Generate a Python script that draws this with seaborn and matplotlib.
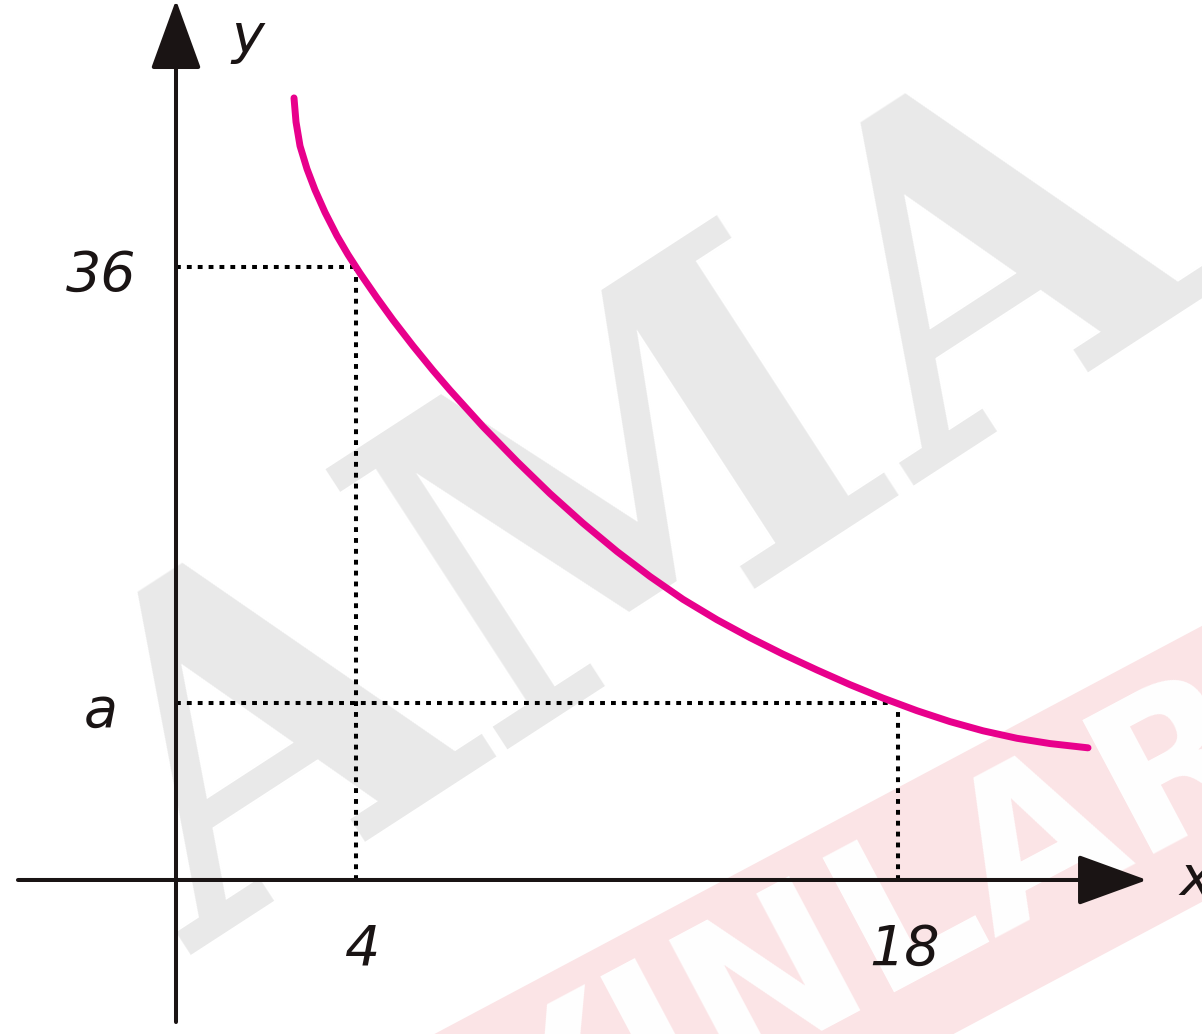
import numpy as np
import pandas as pd
import seaborn as sns
import matplotlib
matplotlib.use('Agg')
import matplotlib.pyplot as plt

# curve (drawing units: x tick "18" at 18, y tick "36" at 36)
curve_x = [2.942, 2.992, 3.092, 3.266, 3.465, 3.715, 4.014, 4.288, 4.587, 5.011,
           5.410, 5.909, 6.407, 6.831, 7.654, 8.502, 9.324, 10.147, 10.995,
           11.818, 12.640, 13.488, 14.311, 15.133, 15.981, 16.804, 17.627,
           18.474, 19.297, 20.120, 20.967, 21.790, 22.738]
curve_y = [45.92, 44.51, 43.10, 41.75, 40.52, 39.20, 37.82, 36.72, 35.63, 34.18,
           32.88, 31.36, 29.92, 28.76, 26.62, 24.57, 22.69, 20.95, 19.29, 17.82,
           16.48, 15.28, 14.23, 13.26, 12.33, 11.47, 10.68, 9.94, 9.30, 8.76,
           8.32, 8.01, 7.76]

# marked points on the curve and their labels
mark_x = [4.49, 18.0]
mark_y = [36.0, 10.39]
x_labels = ['4', '18']
y_labels = ['36', 'a']

x_range = [-4.388, 25.58]
y_range = [-9.043, 51.67]

curve_color = '#e8008c'
ink = '#1a1414'

sns.set_style('white')
plt.rcParams['font.family'] = ['DejaVu Sans']

fig = plt.figure(figsize=(12.02, 10.34), dpi=100)
ax = fig.add_axes([0, 0, 1, 1])
ax.set_xlim(x_range)
ax.set_ylim(y_range)
ax.axis('off')

# watermark in the background
ax.text(0.53, 0.50, 'AMA', transform=ax.transAxes, fontsize=330,
        family='DejaVu Serif', weight='bold', color='#e9e9e9', rotation=33,
        ha='center', va='center', zorder=0)
ax.text(0.655, 0.048, 'YAYINLARI', transform=ax.transAxes, fontsize=150,
        weight='bold', color='white', rotation=28, ha='center', va='center',
        zorder=0.5, bbox=dict(boxstyle='square,pad=0.1', fc='#fbe4e6', ec='none'))

# axes with arrow heads
ax.annotate('', xy=(x_range[1] - 1.37, 0), xytext=(-3.94, 0),
            arrowprops=dict(arrowstyle='-|>,head_length=1.1,head_width=0.4',
                            mutation_scale=40, lw=2.9, color=ink, shrinkA=0, shrinkB=0),
            zorder=5)
ax.annotate('', xy=(0, y_range[1]), xytext=(0, -8.34),
            arrowprops=dict(arrowstyle='-|>,head_length=1.1,head_width=0.4',
                            mutation_scale=40, lw=2.9, color=ink, shrinkA=0, shrinkB=0),
            zorder=5)

# dotted guides
for mx, my in zip(mark_x, mark_y):
    ax.plot([0, mx], [my, my], color='black', lw=2.9, ls=(0, (1.2, 1.5)), zorder=3)
    ax.plot([mx, mx], [0, my], color='black', lw=2.9, ls=(0, (1.2, 1.5)), zorder=3)

# the curve
df = pd.DataFrame({'x': curve_x, 'y': curve_y})
sns.lineplot(data=df, x='x', y='y', ax=ax, color=curve_color, lw=5, sort=False,
             zorder=4, solid_joinstyle='round')
ax.axis('off')

lab = dict(fontsize=40, style='italic', color=ink, ha='center', va='center')
for mx, t in zip(mark_x, x_labels):
    ax.annotate(t, xy=(mx, 0), xytext=(5, -50), textcoords='offset points', **lab)
for my, t in zip(mark_y, y_labels):
    ax.annotate(t, xy=(0, my), xytext=(-54, -6), textcoords='offset points', **lab)
ax.annotate('y', xy=(0, y_range[1]), xytext=(52, -27), textcoords='offset points', **lab)
ax.annotate('x', xy=(x_range[1] - 1.37, 0), xytext=(35, 0), textcoords='offset points', **lab)

fig.savefig('out.png', dpi=100)
